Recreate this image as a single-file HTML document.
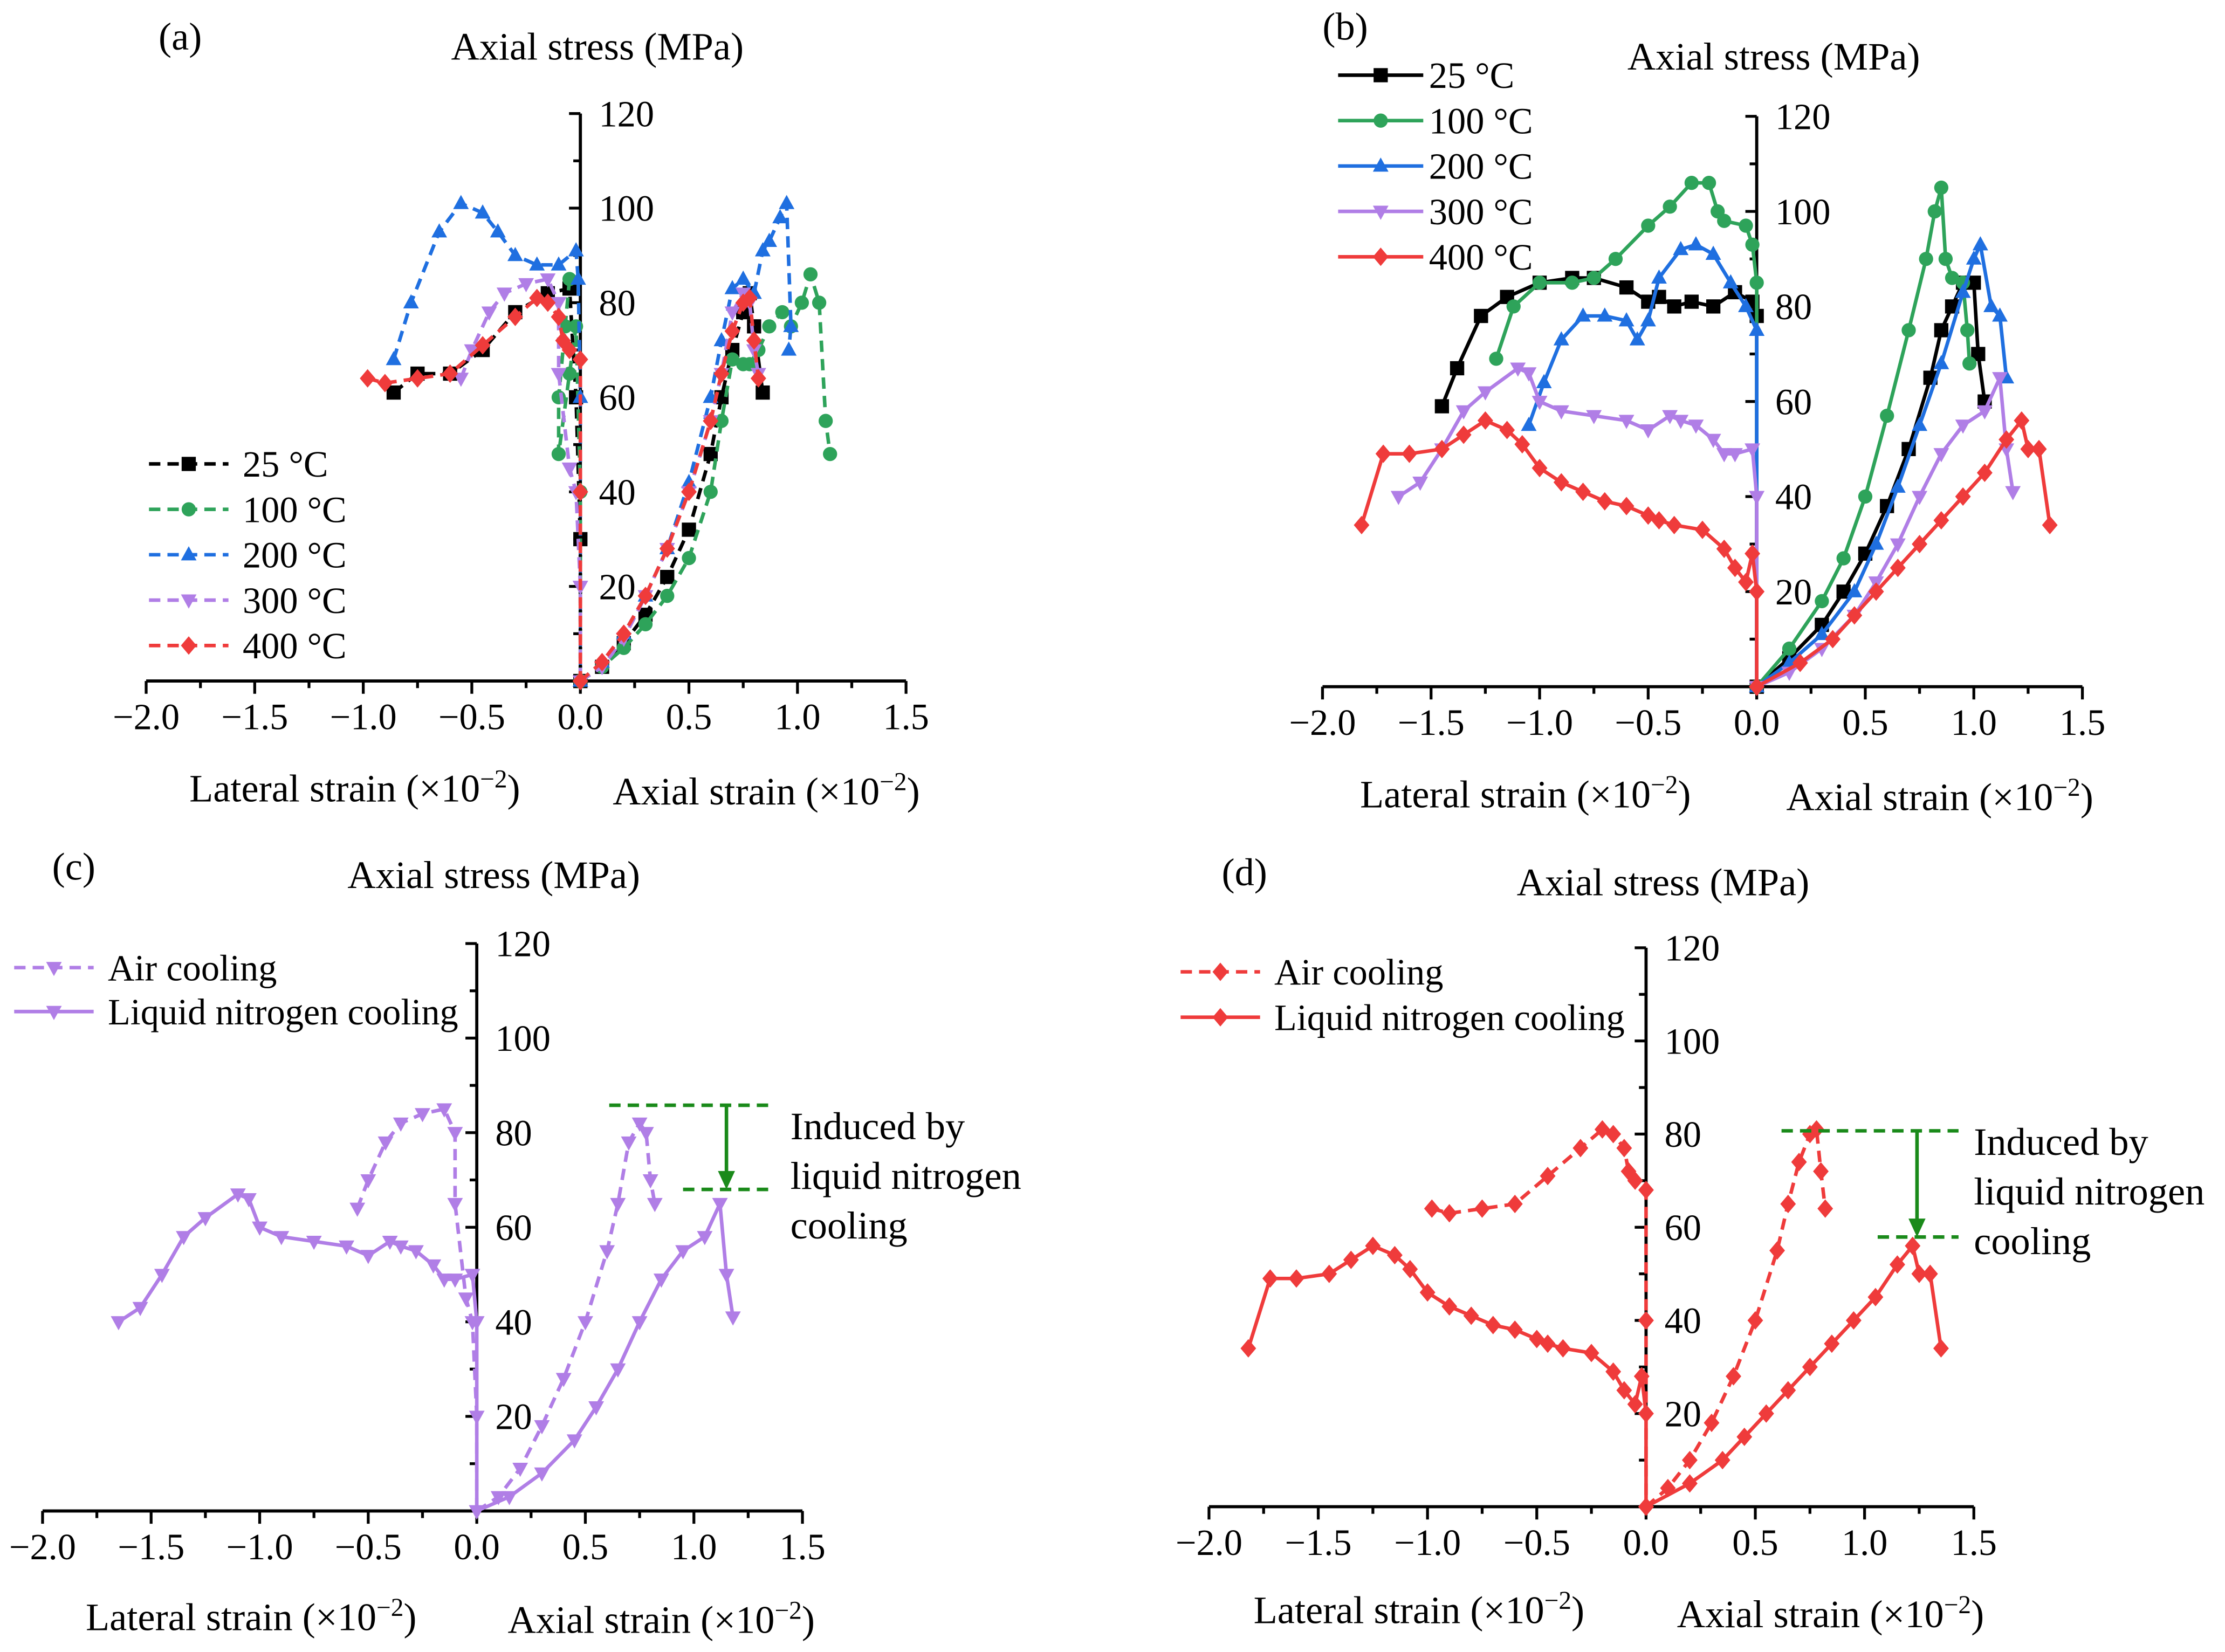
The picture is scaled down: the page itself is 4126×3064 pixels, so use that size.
<!DOCTYPE html>
<html><head><meta charset="utf-8"><style>
html,body{margin:0;padding:0;background:#fff;}
svg{display:block;}
text{font-family:"Liberation Serif",serif;fill:#000;}
</style></head><body>
<svg id="fig" width="4126" height="3064" viewBox="0 0 1568 1164.4" xmlns="http://www.w3.org/2000/svg"></svg>
<script>
// ---- data: [strain (x10^-2), stress MPa]; lateral strain negative ----
const a25Lat=[[-0.86,61],[-0.75,65],[-0.6,65],[-0.45,70],[-0.3,78],[-0.15,82],[-0.05,83],[-0.02,60],[0,30],[0,0]];
const a25Ax=[[0,0],[0.1,3],[0.2,8],[0.3,14],[0.4,22],[0.5,32],[0.6,48],[0.65,60],[0.7,70],[0.75,78],[0.78,82],[0.8,75],[0.84,61]];
const a100Lat=[[-0.05,85],[-0.07,75],[-0.1,60],[-0.1,48],[-0.05,65],[-0.02,75],[0,40],[0,0]];
const a100Ax=[[0,0],[0.1,3],[0.2,7],[0.3,12],[0.4,18],[0.5,26],[0.6,40],[0.65,55],[0.7,68],[0.75,67],[0.78,67],[0.82,70],[0.87,75],[0.93,78],[0.97,75],[1.02,80],[1.06,86],[1.1,80],[1.13,55],[1.15,48]];
const a200Lat=[[-0.86,68],[-0.78,80],[-0.65,95],[-0.55,101],[-0.45,99],[-0.38,95],[-0.3,90],[-0.2,88],[-0.1,88],[-0.02,91],[-0.01,85],[0,60],[0,0]];
const a200Ax=[[0,0],[0.1,4],[0.2,10],[0.3,18],[0.4,28],[0.5,42],[0.6,60],[0.65,72],[0.7,83],[0.75,85],[0.8,82],[0.84,91],[0.87,93],[0.92,98],[0.95,101],[0.97,75],[0.96,70]];
const a300Lat=[[-0.55,64],[-0.5,70],[-0.42,78],[-0.35,82],[-0.25,84],[-0.15,85],[-0.1,80],[-0.1,65],[-0.05,45],[-0.02,40],[0,20],[0,0]];
const a300Ax=[[0,0],[0.1,3],[0.2,9],[0.3,18],[0.4,28],[0.5,40],[0.6,55],[0.65,65],[0.7,78],[0.75,82],[0.78,80],[0.8,70],[0.82,65]];
const a400Lat=[[-0.98,64],[-0.9,63],[-0.75,64],[-0.6,65],[-0.45,71],[-0.3,77],[-0.2,81],[-0.15,80],[-0.1,77],[-0.08,72],[-0.05,70],[0,68],[0,40],[0,0]];
const a400Ax=[[0,0],[0.1,4],[0.2,10],[0.3,18],[0.4,28],[0.5,40],[0.6,55],[0.65,65],[0.7,74],[0.75,80],[0.78,81],[0.8,72],[0.82,64]];
const b25Lat=[[-1.45,59],[-1.38,67],[-1.27,78],[-1.15,82],[-1.0,85],[-0.85,86],[-0.75,86],[-0.6,84],[-0.5,81],[-0.45,82],[-0.38,80],[-0.3,81],[-0.2,80],[-0.1,83],[-0.02,81],[0,78],[0,0]];
const b25Ax=[[0,0],[0.15,6],[0.3,13],[0.4,20],[0.5,28],[0.6,38],[0.7,50],[0.8,65],[0.85,75],[0.9,80],[0.95,85],[1.0,85],[1.02,70],[1.05,60]];
const b100Lat=[[-1.2,69],[-1.12,80],[-1.0,85],[-0.85,85],[-0.75,86],[-0.65,90],[-0.5,97],[-0.4,101],[-0.3,106],[-0.22,106],[-0.18,100],[-0.15,98],[-0.05,97],[-0.02,93],[0,85],[0,0]];
const b100Ax=[[0,0],[0.15,8],[0.3,18],[0.4,27],[0.5,40],[0.6,57],[0.7,75],[0.78,90],[0.82,100],[0.85,105],[0.87,90],[0.9,86],[0.95,85],[0.97,75],[0.98,68]];
const b200Lat=[[-1.05,55],[-0.98,64],[-0.9,73],[-0.8,78],[-0.7,78],[-0.6,77],[-0.55,73],[-0.5,77],[-0.45,86],[-0.35,92],[-0.28,93],[-0.2,91],[-0.12,85],[-0.05,80],[0,75],[0,0]];
const b200Ax=[[0,0],[0.15,5],[0.3,11],[0.45,20],[0.55,30],[0.65,42],[0.75,55],[0.85,68],[0.95,83],[1.0,90],[1.03,93],[1.08,80],[1.12,78],[1.15,65]];
const b300Lat=[[-1.65,40],[-1.55,43],[-1.45,50],[-1.35,58],[-1.25,62],[-1.1,67],[-1.05,66],[-1.0,60],[-0.9,58],[-0.75,57],[-0.6,56],[-0.5,54],[-0.4,57],[-0.35,56],[-0.28,55],[-0.2,52],[-0.15,49],[-0.1,49],[-0.02,50],[0,40],[0,0]];
const b300Ax=[[0,0],[0.15,3],[0.3,8],[0.45,15],[0.55,22],[0.65,30],[0.75,40],[0.85,49],[0.95,55],[1.05,58],[1.12,65],[1.15,50],[1.18,41]];
const b400Lat=[[-1.82,34],[-1.72,49],[-1.6,49],[-1.45,50],[-1.35,53],[-1.25,56],[-1.15,54],[-1.08,51],[-1.0,46],[-0.9,43],[-0.8,41],[-0.7,39],[-0.6,38],[-0.5,36],[-0.45,35],[-0.38,34],[-0.25,33],[-0.15,29],[-0.1,25],[-0.05,22],[-0.02,28],[0,20],[0,0]];
const b400Ax=[[0,0],[0.2,5],[0.35,10],[0.45,15],[0.55,20],[0.65,25],[0.75,30],[0.85,35],[0.95,40],[1.05,45],[1.15,52],[1.22,56],[1.25,50],[1.3,50],[1.35,34]];
const xTicks=[-2.0,-1.5,-1.0,-0.5,0.0,0.5,1.0,1.5];
const xTickLabels=["\u22122.0","\u22121.5","\u22121.0","\u22120.5","0.0","0.5","1.0","1.5"];
const yTicks=[20,40,60,80,100,120];
const tempLabels=["25 \u00b0C","100 \u00b0C","200 \u00b0C","300 \u00b0C","400 \u00b0C"];
const cLevels=[85.8,68];
const dLevels=[80.7,57.9];

const COL={k:"#000",g:"#2ea35a",b:"#1f6fe0",p:"#b07ee6",r:"#ef3b3b"};
const FS=27.5;
const svg=document.getElementById('fig');
const NS="http://www.w3.org/2000/svg";
function el(tag,attrs,parent){const e=document.createElementNS(NS,tag);for(const k in attrs)e.setAttribute(k,attrs[k]);(parent||svg).appendChild(e);return e;}
function txt(x,y,s,size,anchor,parent){const t=el('text',{x:x,y:y,'font-size':size,'text-anchor':anchor||'start'},parent);t.innerHTML=s;return t;}

function makeAxes(P){
  const g=el('g',{});
  
  
  P.g=g;
  P.sx=v=>P.x0+v*P.kx;
  P.sy=v=>P.y0-v*P.ky;
  const xa=el('line',{x1:P.sx(-2),y1:P.y0,x2:P.sx(1.5),y2:P.y0,stroke:'#000','stroke-width':2.2},g);
  
  
  for(let i=0;i<xTicks.length;i++){
    el('line',{x1:P.sx(xTicks[i]),y1:P.y0,x2:P.sx(xTicks[i]),y2:P.y0+9,stroke:'#000','stroke-width':2},g);
    if(i<xTicks.length-1){const m=(xTicks[i]+xTicks[i+1])/2;el('line',{x1:P.sx(m),y1:P.y0,x2:P.sx(m),y2:P.y0+5,stroke:'#000','stroke-width':2},g);}
    const t=txt(P.sx(xTicks[i]),P.y0+34,xTickLabels[i],26,'middle',g);
    
    
  }
  const ya=el('line',{x1:P.x0,y1:P.y0,x2:P.x0,y2:P.sy(120),stroke:'#000','stroke-width':2.2},g);
  
  
  for(const v of yTicks){
    el('line',{x1:P.x0-8,y1:P.sy(v),x2:P.x0,y2:P.sy(v),stroke:'#000','stroke-width':2},g);
    el('line',{x1:P.x0-5,y1:P.sy(v-10),x2:P.x0,y2:P.sy(v-10),stroke:'#000','stroke-width':2},g);
    const t=txt(P.x0+13,P.sy(v)+9,String(v),26,'start',g);
    
    
  }
  const t1=txt(P.title[0],P.title[1],'Axial stress (MPa)',FS,'middle',g);
  
  
  const t2=txt(P.lab[0],P.lab[1],'('+P.id+')',FS,'middle',g);
  
  
  const t3=txt(P.lat[0],P.lat[1],'Lateral strain (\u00d710<tspan dy="-10" font-size="18">\u22122</tspan><tspan dy="10">)</tspan>',FS,'middle',g);
  
  
  const t4=txt(P.ax[0],P.ax[1],'Axial strain (\u00d710<tspan dy="-10" font-size="18">\u22122</tspan><tspan dy="10">)</tspan>',FS,'middle',g);
  
  
}
function marker(g,shape,x,y,c,r){
  r=r||5;
  if(shape==='s')return el('rect',{x:x-r,y:y-r,width:2*r,height:2*r,fill:c},g);
  if(shape==='o')return el('circle',{cx:x,cy:y,r:r,fill:c},g);
  if(shape==='^')return el('polygon',{points:`${x},${y-r*1.2} ${x-r*1.1},${y+r*0.8} ${x+r*1.1},${y+r*0.8}`,fill:c},g);
  if(shape==='v')return el('polygon',{points:`${x},${y+r*1.2} ${x-r*1.1},${y-r*0.8} ${x+r*1.1},${y-r*0.8}`,fill:c},g);
  return el('polygon',{points:`${x},${y-r*1.3} ${x-r*1.1},${y} ${x},${y+r*1.3} ${x+r*1.1},${y}`,fill:c},g);
}
function series(P,data,c,shape,dash,name){
  const g=el('g',{},P.g);
  
  
  const pts=data.map(d=>P.sx(d[0])+','+P.sy(d[1])).join(' ');
  el('polyline',{points:pts,fill:'none',stroke:c,'stroke-width':2.5,'stroke-dasharray':dash?'8,5':'none','stroke-linejoin':'round'},g);
  for(const d of data){marker(g,shape,P.sx(d[0]),P.sy(d[1]),c);}
}
function legend(P,x,y,step,labels,specs,dash){
  for(let i=0;i<labels.length;i++){
    const g=el('g',{},P.g);
    
    
    const yy=y+i*step;
    el('line',{x1:x,y1:yy,x2:x+(P.id==='b'?60:56),y2:yy,stroke:specs[i][0],'stroke-width':2.5,'stroke-dasharray':(dash===null?specs[i][2]:dash)?'8,5':'none'},g);
    marker(g,specs[i][1],x+(P.id==='b'?30:28),yy,specs[i][0]);
    txt(x+(P.id==='b'?64:66),yy+9,labels[i],26,'start',g);
  }
}
function induced(P,lv,xs,arrowX,tx,ty){
  const g=el('g',{},P.g);
  
  
  el('line',{x1:P.sx(xs[0]),y1:P.sy(lv[0]),x2:P.sx(xs[2]),y2:P.sy(lv[0]),stroke:'#1a8a1a','stroke-width':2.5,'stroke-dasharray':'8,5'},g);
  el('line',{x1:P.sx(xs[1]),y1:P.sy(lv[1]),x2:P.sx(xs[2]),y2:P.sy(lv[1]),stroke:'#1a8a1a','stroke-width':2.5,'stroke-dasharray':'8,5'},g);
  const ax=P.sx(arrowX);
  el('line',{x1:ax,y1:P.sy(lv[0]),x2:ax,y2:P.sy(lv[1])-10,stroke:'#1a8a1a','stroke-width':2.5},g);
  el('polygon',{points:`${ax},${P.sy(lv[1])} ${ax-6},${P.sy(lv[1])-13} ${ax+6},${P.sy(lv[1])-13}`,fill:'#1a8a1a'},g);
  txt(tx,ty,'Induced by',FS,'start',g);
  txt(tx,ty+35,'liquid nitrogen',FS,'start',g);
  txt(tx,ty+70,'cooling',FS,'start',g);
}

const A={id:'a',x0:409,y0:480,kx:153,ky:3.333,title:[421,42],lab:[127,35],lat:[250,565],ax:[540,567]};
const B={id:'b',x0:1238,y0:484,kx:153,ky:3.35,title:[1250,49],lab:[948,28],lat:[1075,569],ax:[1367,571]};
const C={id:'c',x0:336,y0:1065,kx:153,ky:3.333,title:[348,626],lab:[52,620],lat:[177,1149],ax:[466,1151]};
const D={id:'d',x0:1160,y0:1062,kx:154,ky:3.283,title:[1172,631],lab:[877,624],lat:[1000,1144],ax:[1290,1147]};
[A,B,C,D].forEach(makeAxes);

series(A,a25Lat,COL.k,'s',true,'series-25C-lateral');series(A,a25Ax,COL.k,'s',true,'series-25C-axial');
series(A,a100Lat,COL.g,'o',true,'series-100C-lateral');series(A,a100Ax,COL.g,'o',true,'series-100C-axial');
series(A,a200Lat,COL.b,'^',true,'series-200C-lateral');series(A,a200Ax,COL.b,'^',true,'series-200C-axial');
series(A,a300Lat,COL.p,'v',true,'series-300C-lateral');series(A,a300Ax,COL.p,'v',true,'series-300C-axial');
series(A,a400Lat,COL.r,'d',true,'series-400C-lateral');series(A,a400Ax,COL.r,'d',true,'series-400C-axial');
const specs=[[COL.k,'s'],[COL.g,'o'],[COL.b,'^'],[COL.p,'v'],[COL.r,'d']];
legend(A,105,327,32,tempLabels,specs,true);

series(B,b25Lat,COL.k,'s',false,'series-25C-lateral');series(B,b25Ax,COL.k,'s',false,'series-25C-axial');
series(B,b100Lat,COL.g,'o',false,'series-100C-lateral');series(B,b100Ax,COL.g,'o',false,'series-100C-axial');
series(B,b200Lat,COL.b,'^',false,'series-200C-lateral');series(B,b200Ax,COL.b,'^',false,'series-200C-axial');
series(B,b300Lat,COL.p,'v',false,'series-300C-lateral');series(B,b300Ax,COL.p,'v',false,'series-300C-axial');
series(B,b400Lat,COL.r,'d',false,'series-400C-lateral');series(B,b400Ax,COL.r,'d',false,'series-400C-axial');
legend(B,943,53,32,tempLabels,specs,false);

series(C,a300Lat,COL.p,'v',true,'air-cooling-lateral');series(C,a300Ax,COL.p,'v',true,'air-cooling-axial');
series(C,b300Lat,COL.p,'v',false,'ln-cooling-lateral');series(C,b300Ax,COL.p,'v',false,'ln-cooling-axial');
legend(C,10,682,31,["Air cooling","Liquid nitrogen cooling"],[[COL.p,'v',true],[COL.p,'v',false]],null);
induced(C,cLevels,[0.61,0.95,1.37],1.15,557,803);

series(D,a400Lat,COL.r,'d',true,'air-cooling-lateral');series(D,a400Ax,COL.r,'d',true,'air-cooling-axial');
series(D,b400Lat,COL.r,'d',false,'ln-cooling-lateral');series(D,b400Ax,COL.r,'d',false,'ln-cooling-axial');
legend(D,832,685,32,["Air cooling","Liquid nitrogen cooling"],[[COL.r,'d',true],[COL.r,'d',false]],null);
induced(D,dLevels,[0.62,1.06,1.43],1.24,1391,814);
</script>
</body></html>
